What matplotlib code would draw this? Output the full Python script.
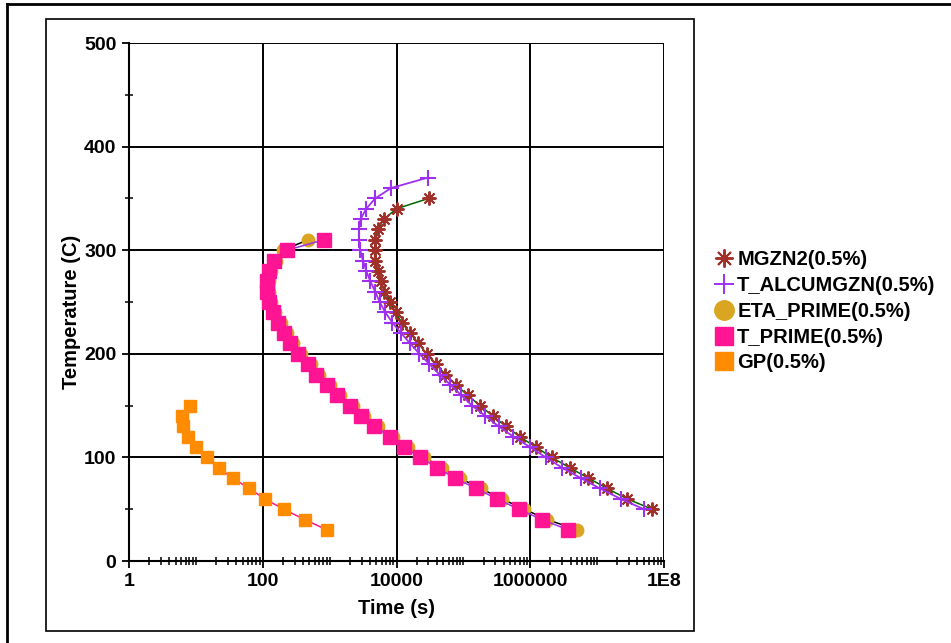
import numpy as np
import matplotlib.pyplot as plt
from matplotlib.lines import Line2D
from matplotlib.patches import Rectangle
from matplotlib.ticker import FixedLocator, NullFormatter

plt.rcParams['font.family'] = ['Liberation Sans', 'DejaVu Sans']
plt.rcParams['font.weight'] = 'bold'

# temperatures (C) and times (s)
mgzn2_temp = [350, 340, 330, 320, 310, 300, 290, 280, 270, 260, 250, 240, 230, 220, 210,
              200, 190, 180, 170, 160, 150, 140, 130, 120, 110, 100, 90, 80, 70, 60, 50]
mgzn2_time = [30300, 10000, 6500, 5250, 4800, 4700, 4700, 5250, 5900, 6600, 8100, 9700,
              12000, 16000, 21300, 28300, 39000, 54000, 77000, 116000, 178000, 274000,
              433000, 697000, 1.21e6, 2.1e6, 3.9e6, 7.4e6, 1.42e7, 2.8e7, 6.66e7]

talcu_temp = [370, 360, 350, 340, 330, 320, 310, 300, 290, 280, 270, 260, 250, 240, 230,
              220, 210, 200, 190, 180, 170, 160, 150, 140, 130, 120, 110, 100, 90, 80,
              70, 60, 50]
talcu_time = [29300, 8300, 4800, 3530, 2900, 2750, 2750, 2870, 3150, 3530, 4060, 4800,
              5600, 6800, 8700, 11700, 16000, 22000, 31000, 44000, 64000, 93000, 135000,
              213000, 336000, 560000, 990000, 1.71e6, 3.0e6, 5.7e6, 1.1e7, 2.25e7, 5.0e7]

prime_temp = [310, 300, 290, 280, 270, 260, 250, 240, 230, 220, 210, 200, 190, 180, 170,
              160, 150, 140, 130, 120, 110, 100, 90, 80, 70, 60, 50, 40, 30]
eta_time = [474, 200, 160, 133, 125, 125, 133, 155, 185, 228, 280, 375, 530, 690, 1020,
            1450, 2250, 3300, 5350, 9000, 14800, 26000, 47500, 88000, 182000, 375000,
            810000, 1.8e6, 5.0e6]
tprime_time = [813, 231, 148, 123, 116, 116, 123, 143, 169, 208, 253, 337, 475, 617, 910,
               1290, 1990, 2900, 4680, 7900, 12900, 22500, 41000, 75000, 155000, 316000,
               675000, 1.5e6, 3.7e6]

gp_temp = [150, 140, 130, 120, 110, 100, 90, 80, 70, 60, 50, 40, 30]
gp_time = [8.1, 6.2, 6.5, 7.6, 10.1, 14.7, 21.8, 35.6, 62.7, 107, 205, 424, 910]

x_major = [1, 1e2, 1e4, 1e6, 1e8]
x_labels = ['1', '100', '10000', '1000000', '1E8']

fig = plt.figure(figsize=(9.51, 6.43), dpi=100)
ax = fig.add_axes([129 / 951, 1 - 561 / 643, 535 / 951, 518 / 643])

star = (8, 2, 0)
ax.plot(mgzn2_time, mgzn2_temp, color='#006400', lw=1.1, marker=star, ms=10,
        mec='#a0302a', mew=1.4, zorder=3)
ax.plot(talcu_time, talcu_temp, color='#a030f0', lw=1.3, marker='+', ms=11,
        mec='#a030f0', mew=1.5, zorder=3)
ax.plot(eta_time, prime_temp, color='black', lw=1.1, marker='o', ms=9,
        mfc='#daa520', mec='#daa520', zorder=3)
ax.plot(tprime_time, prime_temp, color='#a030f0', lw=1.1, marker='s', ms=9.5,
        mfc='#ff1493', mec='#ff1493', zorder=4)
ax.plot(gp_time, gp_temp, color='#ff1493', lw=1.1, marker='s', ms=8,
        mfc='#ff8c00', mec='#ff8c00', zorder=3)

ax.set_xscale('log')
ax.set_xlim(1, 1e8)
ax.set_ylim(0, 500)
ax.set_xticks(x_major)
ax.set_xticklabels(x_labels)
minor = [k * 10 ** d for d in range(8) for k in range(1, 10) if not (k == 1 and d % 2 == 0)]
ax.xaxis.set_minor_locator(FixedLocator(minor))
ax.xaxis.set_minor_formatter(NullFormatter())
ax.set_yticks(range(0, 501, 100))
ax.yaxis.set_minor_locator(FixedLocator(range(50, 500, 100)))

ax.tick_params(which='major', direction='out', length=5, width=1.3, labelsize=14, pad=4)
ax.tick_params(which='minor', direction='inout', length=6, width=1.1)
ax.grid(True, which='major', color='black', lw=1.4)
for s in ['top', 'right']:
    ax.spines[s].set_visible(False)
for s in ['left', 'bottom']:
    ax.spines[s].set_linewidth(1.5)

ax.set_xlabel('Time (s)', fontsize=14.5, fontweight='bold')
ax.set_ylabel('Temperature (C)', fontsize=14.5, fontweight='bold')
ax.xaxis.set_label_coords(0.5, -0.074)
ax.yaxis.set_label_coords(-0.089, 0.48)

handles = [
    Line2D([], [], ls='none', marker=star, ms=13, mec='#a0302a', mew=1.4),
    Line2D([], [], ls='none', marker='+', ms=15, mec='#a030f0', mew=1.4),
    Line2D([], [], ls='none', marker='o', ms=14, mfc='#daa520', mec='#daa520'),
    Line2D([], [], ls='none', marker='s', ms=13.5, mfc='#ff1493', mec='#ff1493'),
    Line2D([], [], ls='none', marker='s', ms=13.5, mfc='#ff8c00', mec='#ff8c00'),
]
labels = ['MGZN2(0.5%)', 'T_ALCUMGZN(0.5%)', 'ETA_PRIME(0.5%)', 'T_PRIME(0.5%)', 'GP(0.5%)']
fig.legend(handles, labels, loc='upper left', bbox_to_anchor=(708 / 951, 1 - 242 / 643),
           frameon=False, fontsize=14.5, handlelength=0.8, handletextpad=0.25,
           labelspacing=0.34, borderaxespad=0)

# frames drawn around the plot
fig.add_artist(Rectangle((46 / 951, 1 - 631 / 643), 648 / 951, 612 / 643,
                         transform=fig.transFigure, fill=False, ec='black', lw=1.2))
fig.add_artist(Line2D([7 / 951, 1], [1 - 4 / 643, 1 - 4 / 643], transform=fig.transFigure,
                      color='black', lw=2))
fig.add_artist(Line2D([7 / 951, 7 / 951], [0, 1 - 4 / 643], transform=fig.transFigure,
                      color='black', lw=2))

fig.savefig('out.png', dpi=100)
